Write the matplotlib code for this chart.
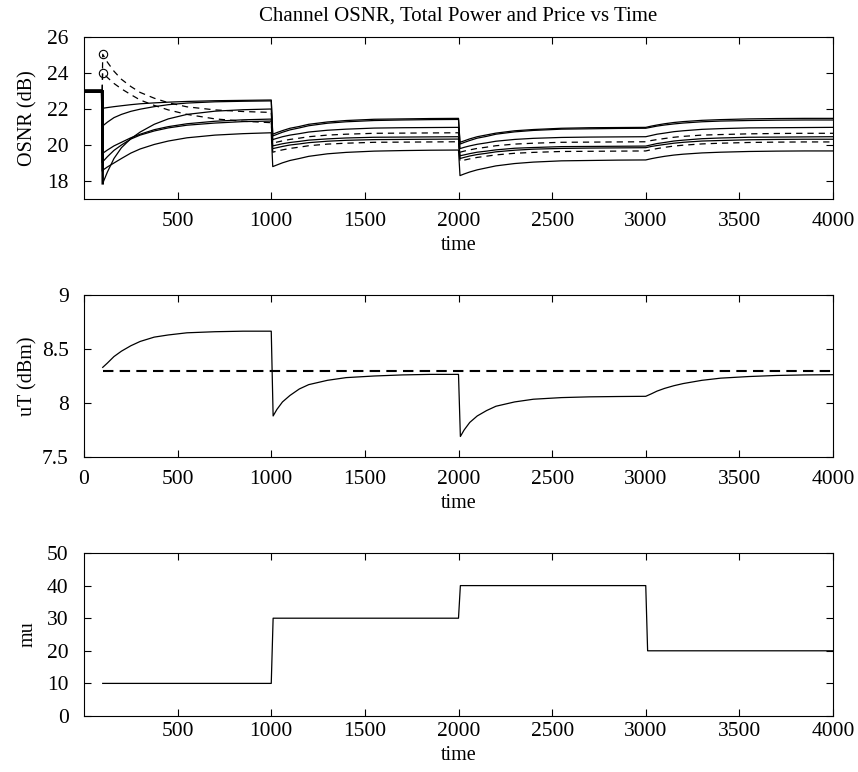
import numpy as np
import matplotlib
matplotlib.use("Agg")
import matplotlib.pyplot as plt

plt.rcParams["font.family"] = ["Liberation Serif", "DejaVu Serif"]
plt.rcParams["font.size"] = 14.5

# ── OSNR per channel (dB) ─────────────────────────────────────────────────────
t_osnr = [0, 97,
          100, 125, 160, 200, 250, 300, 375, 450, 550, 700, 850, 1000,
          1008, 1030, 1060, 1100, 1150, 1200, 1300, 1400, 1550, 1700, 1850, 2000,
          2008, 2030, 2060, 2100, 2150, 2200, 2300, 2400, 2550, 2700, 2850, 3000,
          3030, 3060, 3100, 3150, 3200, 3300, 3400, 3550, 3700, 3850, 4000]

osnr_ch1 = [23, 23,
            22.04, 22.08, 22.13, 22.18, 22.24, 22.29, 22.34, 22.38, 22.42, 22.46, 22.48, 22.50,
            20.60, 20.69, 20.80, 20.93, 21.03, 21.15, 21.28, 21.36, 21.43, 21.45, 21.47, 21.48,
            20.15, 20.23, 20.34, 20.46, 20.56, 20.66, 20.79, 20.86, 20.93, 20.96, 20.97, 20.98,
            21.05, 21.11, 21.18, 21.25, 21.30, 21.37, 21.41, 21.45, 21.47, 21.48, 21.48]
osnr_ch2 = [23, 23,
            21.06, 21.27, 21.52, 21.70, 21.87, 21.99, 22.13, 22.24, 22.33, 22.40, 22.43, 22.45,
            20.50, 20.59, 20.71, 20.84, 20.95, 21.07, 21.21, 21.29, 21.36, 21.39, 21.41, 21.42,
            20.05, 20.14, 20.25, 20.38, 20.48, 20.60, 20.73, 20.81, 20.88, 20.90, 20.92, 20.93,
            20.99, 21.05, 21.11, 21.17, 21.22, 21.29, 21.33, 21.36, 21.38, 21.39, 21.39]
osnr_ch3 = [23, 23,
            17.87, 18.50, 19.25, 19.85, 20.35, 20.72, 21.15, 21.45, 21.70, 21.88, 21.96, 22.00,
            20.30, 20.37, 20.46, 20.55, 20.63, 20.72, 20.82, 20.88, 20.94, 20.96, 20.97, 20.98,
            19.80, 19.87, 19.95, 20.04, 20.12, 20.21, 20.31, 20.37, 20.42, 20.44, 20.45, 20.46,
            20.53, 20.60, 20.66, 20.74, 20.79, 20.87, 20.91, 20.95, 20.96, 20.97, 20.98]
osnr_ch4 = [23, 23,
            19.54, 19.72, 19.95, 20.15, 20.40, 20.60, 20.85, 21.02, 21.18, 21.32, 21.40, 21.44,
            19.95, 20.00, 20.07, 20.14, 20.20, 20.27, 20.34, 20.39, 20.43, 20.44, 20.45, 20.46,
            19.40, 19.45, 19.52, 19.60, 19.66, 19.73, 19.82, 19.86, 19.91, 19.92, 19.93, 19.94,
            20.01, 20.08, 20.14, 20.22, 20.27, 20.35, 20.39, 20.43, 20.44, 20.45, 20.46]
osnr_ch5 = [23, 23,
            19.07, 19.35, 19.70, 20.00, 20.33, 20.55, 20.78, 20.95, 21.10, 21.22, 21.30, 21.33,
            19.80, 19.85, 19.92, 20.00, 20.06, 20.13, 20.21, 20.26, 20.30, 20.31, 20.32, 20.33,
            19.25, 19.31, 19.39, 19.47, 19.54, 19.62, 19.71, 19.77, 19.81, 19.83, 19.84, 19.85,
            19.92, 19.97, 20.03, 20.10, 20.15, 20.22, 20.25, 20.29, 20.31, 20.32, 20.32]
osnr_ch6 = [23, 23,
            18.60, 18.78, 19.00, 19.25, 19.55, 19.78, 20.03, 20.22, 20.40, 20.55, 20.63, 20.68,
            18.80, 18.89, 19.01, 19.14, 19.25, 19.37, 19.51, 19.59, 19.66, 19.69, 19.71, 19.72,
            18.30, 18.39, 18.50, 18.62, 18.73, 18.84, 18.97, 19.05, 19.12, 19.14, 19.16, 19.17,
            19.24, 19.30, 19.37, 19.44, 19.49, 19.56, 19.60, 19.64, 19.66, 19.67, 19.67]
# dashed channels (start above the target)
osnr_ch7 = [23, 23,
            25.04, 24.60, 24.10, 23.65, 23.25, 22.92, 22.60, 22.35, 22.12, 21.95, 21.86, 21.81,
            20.10, 20.16, 20.23, 20.31, 20.38, 20.46, 20.55, 20.60, 20.65, 20.66, 20.67, 20.68,
            19.60, 19.66, 19.73, 19.81, 19.88, 19.96, 20.05, 20.10, 20.15, 20.16, 20.17, 20.18,
            20.25, 20.30, 20.36, 20.43, 20.48, 20.55, 20.58, 20.62, 20.64, 20.65, 20.65]
osnr_ch8 = [23, 23,
            24.02, 23.75, 23.42, 23.12, 22.80, 22.50, 22.20, 21.95, 21.70, 21.45, 21.32, 21.24,
            19.60, 19.66, 19.73, 19.81, 19.88, 19.96, 20.05, 20.10, 20.15, 20.16, 20.17, 20.18,
            19.10, 19.16, 19.23, 19.31, 19.38, 19.45, 19.54, 19.59, 19.64, 19.65, 19.66, 19.67,
            19.74, 19.80, 19.87, 19.94, 19.99, 20.06, 20.10, 20.14, 20.16, 20.17, 20.17]

# ── total power (dBm) ─────────────────────────────────────────────────────────
t_power = [100, 125, 160, 200, 250, 300, 375, 450, 550, 700, 850, 1000,
           1010, 1030, 1060, 1100, 1150, 1200, 1300, 1400, 1550, 1700, 1850, 2000,
           2010, 2030, 2060, 2100, 2150, 2200, 2300, 2400, 2550, 2700, 2850, 3000,
           3030, 3060, 3100, 3150, 3200, 3300, 3400, 3550, 3700, 3850, 4000]
u_total = [8.33, 8.37, 8.43, 8.48, 8.53, 8.57, 8.61, 8.63, 8.65, 8.66, 8.665, 8.665,
           7.88, 7.94, 8.01, 8.07, 8.13, 8.17, 8.21, 8.235, 8.25, 8.26, 8.265, 8.265,
           7.69, 7.75, 7.82, 7.88, 7.93, 7.97, 8.01, 8.035, 8.05, 8.057, 8.06, 8.062,
           8.085, 8.11, 8.135, 8.16, 8.18, 8.21, 8.23, 8.245, 8.255, 8.26, 8.262]
t_target = [100, 4000]
u_target = [8.3, 8.3]

# ── price ─────────────────────────────────────────────────────────────────────
t_mu = [100, 1000, 1010, 2000, 2010, 3000, 3010, 4000]
mu = [10, 10, 30, 30, 40, 40, 20, 20]

W, H = 858, 772
fig = plt.figure(figsize=(W / 100, H / 100), dpi=100)


def axes_px(left, top, right, bottom):
    return fig.add_axes([left / W, 1 - bottom / H, (right - left) / W, (bottom - top) / H])


def style(ax, xpad):
    ax.tick_params(direction="in", top=True, right=True, length=5, width=0.8,
                   labelsize=15.5)
    ax.tick_params(axis="x", pad=xpad)
    ax.tick_params(axis="y", pad=11)
    for s in ax.spines.values():
        s.set_linewidth(0.8)
    ax.set_xlabel("time")
    ax.yaxis.set_label_coords(-0.062, 0.5)


ax1 = axes_px(84, 37, 833, 199)
ax2 = axes_px(84, 295, 833, 457)
ax3 = axes_px(84, 553, 833, 716)

solid = [osnr_ch1, osnr_ch2, osnr_ch3, osnr_ch4, osnr_ch5, osnr_ch6]
dashed = [osnr_ch7, osnr_ch8]
for ch in solid:
    ax1.plot(t_osnr[2:], ch[2:], color="black", lw=0.9)
    ax1.plot(t_osnr[:3], ch[:3], color="black", lw=1.8)
for ch in dashed:
    ax1.plot(t_osnr[1:], ch[1:], color="black", lw=0.9, ls=(0, (5, 4)))
    ax1.plot(t_osnr[:2], ch[:2], color="black", lw=1.8)
    ax1.plot(t_osnr[2], ch[2], "o", mfc="none", mec="black", ms=6, mew=0.8)
ax1.set_xlim(0, 4000)
ax1.set_ylim(17, 26)
ax1.set_xticks(np.arange(500, 4001, 500))
ax1.set_yticks(np.arange(18, 27, 2))
ax1.set_ylabel("OSNR (dB)")
ax1.set_title("Channel OSNR, Total Power and Price vs Time", fontsize=15, pad=12)
style(ax1, 9)

ax2.plot(t_power, u_total, color="black", lw=0.9)
ax2.plot(t_target, u_target, color="black", lw=1.5, ls=(0, (5, 3)))
ax2.set_xlim(0, 4000)
ax2.set_ylim(7.5, 9)
ax2.set_xticks(np.arange(0, 4001, 500))
ax2.set_yticks([7.5, 8, 8.5, 9])
ax2.set_yticklabels(["7.5", "8", "8.5", "9"])
ax2.set_ylabel("uT (dBm)")
style(ax2, 9)

ax3.plot(t_mu, mu, color="black", lw=0.9)
ax3.set_xlim(0, 4000)
ax3.set_ylim(0, 50)
ax3.set_xticks(np.arange(500, 4001, 500))
ax3.set_yticks(np.arange(0, 51, 10))
ax3.set_ylabel("mu")
style(ax3, 4)

fig.savefig("out.png", dpi=100)
